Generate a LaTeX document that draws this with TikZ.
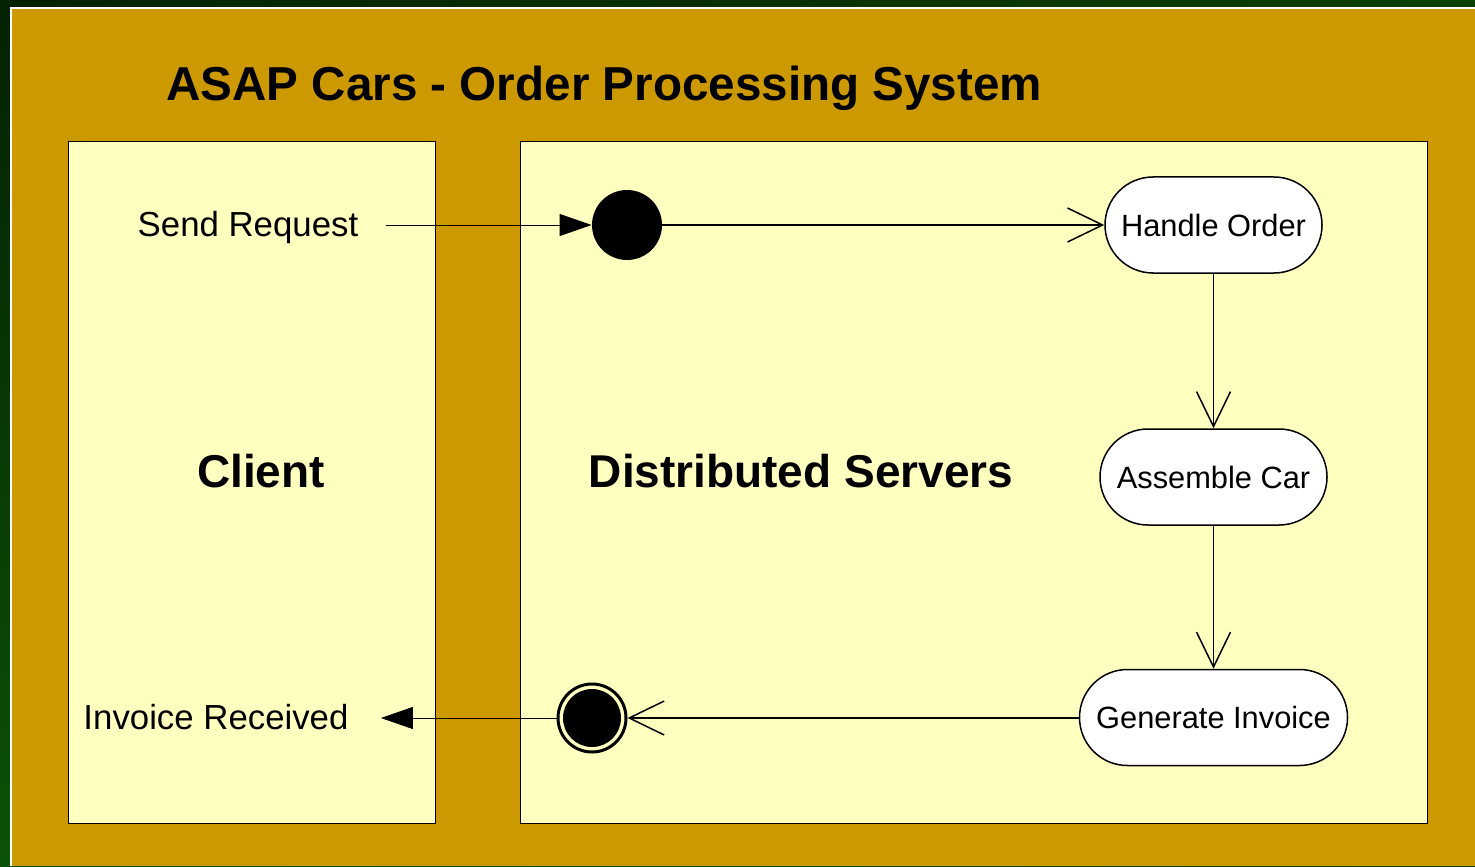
\documentclass[tikz,border=0pt]{standalone}
\usepackage{fontspec}
\setmainfont{Liberation Sans}
\usetikzlibrary{arrows.meta,shadings}
\definecolor{gold}{HTML}{CC9900}
\definecolor{lanefill}{HTML}{FFFFC0}
\definecolor{greenA}{HTML}{042204}
\definecolor{greenB}{HTML}{0C4004}
\definecolor{greenC}{HTML}{0C5206}
\tikzset{
  lanebox/.style={draw=black, fill=lanefill, line width=0.5pt},
  activity/.style={draw, fill=white, line width=0.75pt, rounded corners=24pt,
    minimum height=48pt, inner sep=0pt, font=\fontsize{15.4}{18}\selectfont},
  sidetext/.style={font=\fontsize{17.4}{20}\selectfont, anchor=base, inner sep=0pt},
  lanetitle/.style={font=\bfseries\fontsize{23}{27}\selectfont, anchor=base, inner sep=0pt},
  flow/.style={line width=0.75pt, -{Straight Barb[length=17.5pt,width=17pt,line width=0.75pt]}},
  signal/.style={line width=0.5pt, -{Triangle[length=16pt,width=11pt]}},
}
\begin{document}
\begin{tikzpicture}[x=0.5pt,y=-0.5pt]
\useasboundingbox (0,0) rectangle (1475,866);
% slide background
\shade[upper left=greenA, upper right=greenB, lower left=greenC, lower right=greenB]
  (0,0) rectangle (1475,866);
\fill[white] (10,7) rectangle (1475,866);
\fill[gold] (12,9) rectangle (1475,866);

% title
\node[font=\bfseries\fontsize{23.8}{28}\selectfont, anchor=base west, inner sep=0pt]
  (title) at (166,101) {ASAP Cars - Order Processing System};

% swim lanes
\draw[lanebox] (68,142) rectangle (435,823);
\draw[lanebox] (520,142) rectangle (1427,823);
\node[lanetitle] (client) at (261,487) {Client};
\node[lanetitle] (servers) at (801,487) {Distributed Servers};

% client labels
\node[sidetext] (sendreq) at (248,236) {Send Request};
\node[sidetext] (invoice) at (216,729) {Invoice Received};

% start and end states
\node[circle, fill=black, minimum size=35pt, inner sep=0pt] (start) at (627,225) {};
\node[circle, draw=black, line width=1.5pt, minimum size=34pt, inner sep=0pt] (finish) at (592,718) {};
\fill[black] (finish.center) circle (14.5pt);

% activities
\node[activity, minimum width=108.5pt] (handle) at (1213.5,225) {Handle Order};
\node[activity, minimum width=113.5pt] (assemble) at (1213.5,477) {Assemble Car};
\node[activity, minimum width=134pt] (generate) at (1213.5,717.5) {Generate Invoice};

% transitions
\draw[signal, shorten <=13.5pt] (sendreq.east |- start) -- (start);
\draw[flow] (start) -- (handle);
\draw[flow] (handle) -- (assemble);
\draw[flow] (assemble) -- (generate);
\draw[flow] (generate.west |- finish) -- (finish);
\draw[signal, shorten >=16pt] (finish) -- (invoice.east |- finish);
\end{tikzpicture}
\end{document}
